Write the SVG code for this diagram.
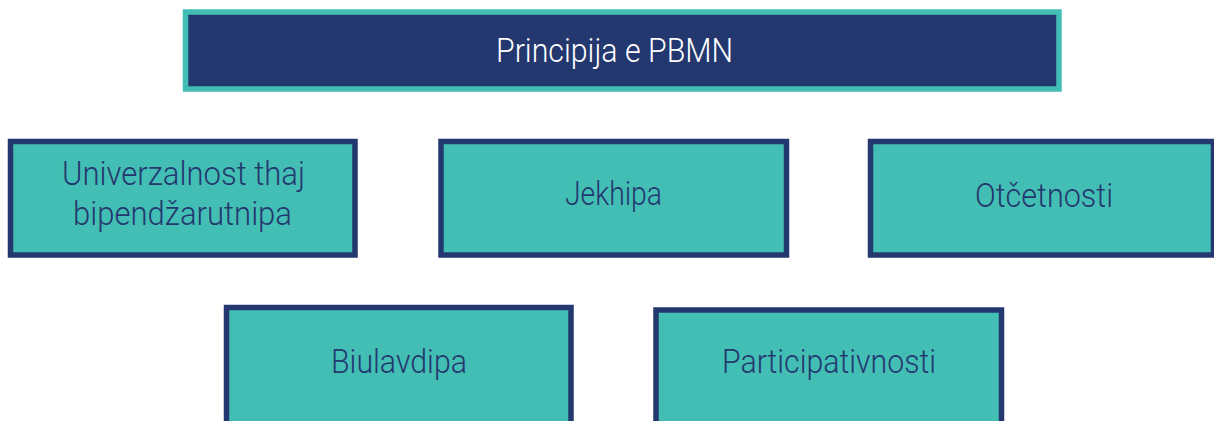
<svg xmlns="http://www.w3.org/2000/svg" width="1214" height="421" viewBox="0 0 1214 421">
<style>
.box{fill:#43BEB4;stroke:#243870;stroke-width:5.5}
.hdr{fill:#243870;stroke:#43BEB4;stroke-width:5.5}
.t{font-family:Roboto,"Open Sans","Liberation Sans",sans-serif;font-weight:300;font-size:32.5px;fill:#243870;text-anchor:middle}
.th{fill:#ffffff}
</style>
<rect width="1214" height="421" fill="#ffffff"/>
<g id="connectors"></g>
<g id="header">
<rect class="hdr" x="185.5" y="12" width="873.5" height="77"/>
<text class="t th" x="614.5" y="62" textLength="237" lengthAdjust="spacingAndGlyphs">Principija e PBMN</text>
</g>
<g id="n1">
<rect class="box" x="10.5" y="141.5" width="344.5" height="113.5"/>
<text class="t" x="183.5" y="185" textLength="243" lengthAdjust="spacingAndGlyphs">Univerzalnost thaj</text>
<text class="t" x="182.5" y="225" textLength="219" lengthAdjust="spacingAndGlyphs">bipendžarutnipa</text>
</g>
<g id="n2">
<rect class="box" x="441" y="141.5" width="345.5" height="113.5"/>
<text class="t" x="613.5" y="205" textLength="97" lengthAdjust="spacingAndGlyphs">Jekhipa</text>
</g>
<g id="n3">
<rect class="box" x="870.5" y="141.5" width="343" height="113.5"/>
<text class="t" x="1044" y="207" textLength="138" lengthAdjust="spacingAndGlyphs">Otčetnosti</text>
</g>
<g id="n4">
<rect class="box" x="226.5" y="307.5" width="344.5" height="120"/>
<text class="t" x="399" y="373" textLength="136" lengthAdjust="spacingAndGlyphs">Biulavdipa</text>
</g>
<g id="n5">
<rect class="box" x="656" y="310" width="345.5" height="120"/>
<text class="t" x="829" y="373" textLength="214" lengthAdjust="spacingAndGlyphs">Participativnosti</text>
</g>
</svg>
